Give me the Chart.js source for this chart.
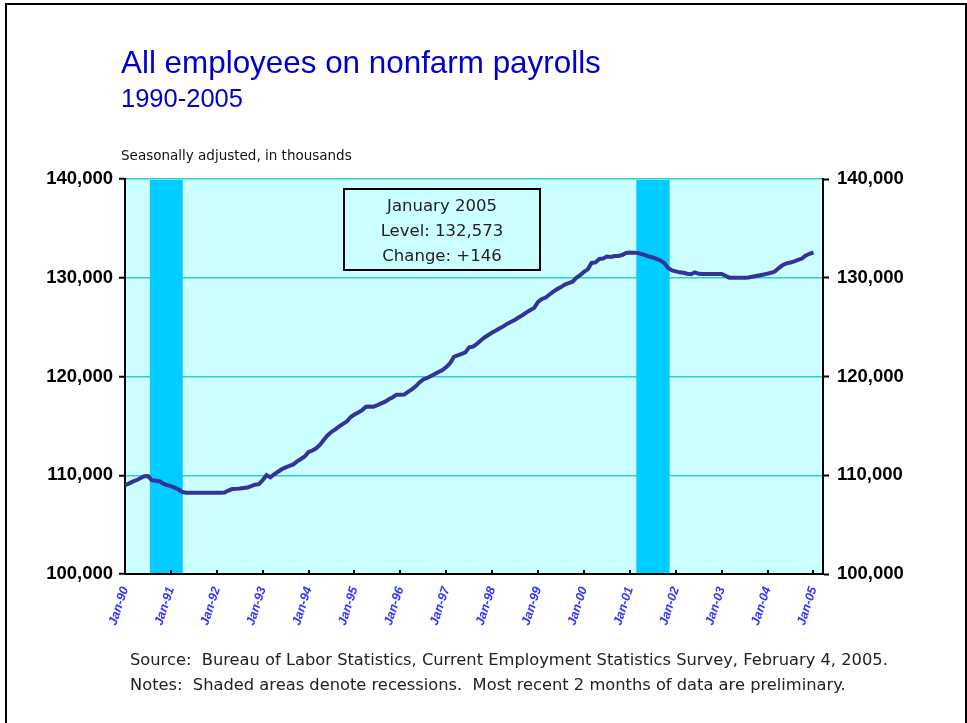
<!DOCTYPE html>
<html>
<head>
<meta charset="utf-8">
<script src="https://cdn.jsdelivr.net/npm/chart.js@4/dist/chart.umd.min.js"></script>
<style>
  html, body { margin: 0; padding: 0; background: #fff; overflow: hidden; }
  #wrap { position: relative; width: 967px; height: 723px; }
  canvas { position: absolute; left: 0; top: 0; }
  .t { position: absolute; white-space: nowrap; font-family: "Liberation Sans", Arial, sans-serif; }
  .d { font-family: "DejaVu Sans", Tahoma, sans-serif; }
  #frame { position: absolute; left: 5px; top: 3px; width: 962px; height: 740px; border: 2px solid #000; box-sizing: border-box; }
  #box { position: absolute; left: 343px; top: 188px; width: 198px; height: 83px; border: 2px solid #000; box-sizing: border-box;
         font-family: "DejaVu Sans", Tahoma, sans-serif; font-size: 16.5px; color: #222; text-align: center; line-height: 25px; padding-top: 3px; }
</style>
</head>
<body>
<div id="wrap">
  <canvas id="c" width="967" height="723"></canvas>
  <div id="frame"></div>
  <div class="t" style="left:121px; top:45px; font-size:31.4px; color:#0000cc;">All employees on nonfarm payrolls</div>
  <div class="t" style="left:121px; top:84px; font-size:25.5px; color:#0000cc;">1990-2005</div>
  <div class="t d" style="left:121px; top:147px; font-size:13.5px; color:#111;">Seasonally adjusted, in thousands</div>
  <div id="box">January 2005<br>Level: 132,573<br>Change: +146</div>
  <div class="t d" style="left:130px; top:650px; font-size:16.3px; color:#222;">Source:&nbsp; Bureau of Labor Statistics, Current Employment Statistics Survey, February 4, 2005.</div>
  <div class="t d" style="left:130px; top:675px; font-size:16.3px; color:#222;">Notes:&nbsp; Shaded areas denote recessions.&nbsp; Most recent 2 months of data are preliminary.</div>
</div>
<script>
// Monthly nonfarm payrolls, Jan 1990 - Jan 2005 (thousands, seasonally adjusted)
const payrolls1990 = [109010,109150,109350,109500,109700,109900,109920,109500,109450,109400,109150,109000];
const payrolls1991 = [108900,108750,108550,108300,108230,108240,108220,108230,108240,108230,108220,108230];
const payrolls1992 = [108220,108230,108250,108450,108600,108620,108650,108700,108750,108900,109040,109100];
const payrolls1993 = [109500,110020,109790,110100,110350,110600,110800,110940,111100,111400,111650,111900];
const payrolls1994 = [112350,112500,112730,113100,113600,114050,114400,114650,114950,115200,115450,115900];
const payrolls1995 = [116150,116350,116600,116940,116950,116940,117100,117280,117450,117690,117900,118160];
const payrolls1996 = [118160,118170,118450,118700,119000,119400,119700,119850,120050,120250,120450,120650];
const payrolls1997 = [120950,121350,122000,122150,122300,122450,122950,123020,123300,123650,123950,124200];
const payrolls1998 = [124450,124650,124880,125100,125350,125550,125750,126000,126230,126500,126730,126950];
const payrolls1999 = [127550,127850,128000,128300,128600,128850,129050,129300,129450,129600,130000,130250];
const payrolls2000 = [130600,130850,131500,131550,131900,131950,132150,132100,132200,132200,132300,132500];
const payrolls2001 = [132550,132540,132520,132400,132300,132150,132050,131900,131750,131500,131000,130750];
const payrolls2002 = [130650,130550,130500,130400,130350,130550,130400,130380,130370,130380,130390,130370];
const payrolls2003 = [130380,130200,130010,130000,130010,130000,130010,130020,130100,130180,130250,130330];
const payrolls2004 = [130420,130500,130650,131000,131300,131450,131550,131650,131800,131950,132250,132427];
const payrolls2005 = [132573];

// Month index 0 = Jan-90
const tickMonths = [0,12,24,36,48,60,72,84,96,108,120,132,144,156,168,180];
const tickLabels = ["Jan-90","Jan-91","Jan-92","Jan-93","Jan-94","Jan-95","Jan-96","Jan-97","Jan-98","Jan-99","Jan-00","Jan-01","Jan-02","Jan-03","Jan-04","Jan-05"];
const xAxisMax = 182.5;
const yTicksMin = 100000, yTicksMax = 140000, yStep = 10000;
// Recessions (month index start/end)
const recessionStart = [6.5, 133.7];
const recessionEnd   = [15.1, 142.4];

const values = [].concat(payrolls1990,payrolls1991,payrolls1992,payrolls1993,payrolls1994,payrolls1995,payrolls1996,
  payrolls1997,payrolls1998,payrolls1999,payrolls2000,payrolls2001,payrolls2002,payrolls2003,payrolls2004,payrolls2005);
const points = values.map((v,i)=>({x:i, y:v}));

const bgPlugin = {
  id: 'bg',
  beforeDraw(chart) {
    const {ctx, chartArea:a} = chart;
    ctx.save(); ctx.fillStyle = '#ccffff';
    ctx.fillRect(a.left, a.top, a.right-a.left, a.bottom-a.top);
    ctx.restore();
  },
  beforeDatasetsDraw(chart) {
    const {ctx, chartArea:a, scales} = chart;
    ctx.save(); ctx.fillStyle = '#00ccff';
    for (let i=0;i<recessionStart.length;i++) {
      const x0 = scales.x.getPixelForValue(recessionStart[i]);
      const x1 = scales.x.getPixelForValue(recessionEnd[i]);
      ctx.fillRect(x0, a.top+1, x1-x0, a.bottom-a.top-2);
    }
    ctx.restore();
  },
  afterDatasetsDraw(chart) {
    const {ctx, chartArea:a, scales} = chart;
    ctx.save(); ctx.strokeStyle = '#000'; ctx.lineWidth = 2;
    tickMonths.forEach(m => {
      const x = Math.round(scales.x.getPixelForValue(m));
      ctx.beginPath(); ctx.moveTo(x, a.bottom-4); ctx.lineTo(x, a.bottom); ctx.stroke();
    });
    ctx.restore();
  }
};

const yTickFmt = v => v.toLocaleString('en-US');

new Chart(document.getElementById('c'), {
  type: 'line',
  data: { datasets: [{ data: points, borderColor: '#333399', borderWidth: 4, pointRadius: 0, tension: 0, fill: false, yAxisID: 'y' }] },
  options: {
    responsive: false, animation: false, devicePixelRatio: 1,
    layout: { padding: { top: 179, left: 0, right: 0, bottom: 0 } },
    plugins: { legend: { display: false }, tooltip: { enabled: false } },
    scales: {
      x: {
        type: 'linear', min: 0, max: xAxisMax,
        afterBuildTicks: s => { s.ticks = tickMonths.map(v => ({value: v})); },
        afterFit: s => { s.height = 149; },
        grid: { drawOnChartArea: false, drawTicks: false },
        border: { color: '#000', width: 2 },
        ticks: {
          autoSkip: false, minRotation: 72, maxRotation: 72, padding: 11,
          color: '#3333ff', font: { family: '"Liberation Sans", Arial, sans-serif', size: 12.5, weight: 'bold', style: 'italic' },
          callback: v => { const i = tickMonths.indexOf(v); return i >= 0 ? tickLabels[i] : ''; }
        }
      },
      y: {
        position: 'left', min: yTicksMin, max: yTicksMax,
        afterFit: s => { s.width = 125; },
        grid: { color: '#33cccc', lineWidth: 1.5, tickColor: '#000', tickWidth: 2, tickLength: 6 },
        border: { color: '#000', width: 2 },
        ticks: { stepSize: yStep, padding: 6, color: '#000', callback: yTickFmt,
                 font: { family: '"Liberation Sans", Arial, sans-serif', size: 18.5, weight: 'bold' } }
      },
      y2: {
        position: 'right', min: yTicksMin, max: yTicksMax,
        afterFit: s => { s.width = 144; },
        grid: { drawOnChartArea: false, tickColor: '#000', tickWidth: 2, tickLength: 6 },
        border: { color: '#000', width: 2 },
        ticks: { stepSize: yStep, padding: 8, color: '#000', callback: yTickFmt,
                 font: { family: '"Liberation Sans", Arial, sans-serif', size: 18.5, weight: 'bold' } }
      }
    }
  },
  plugins: [bgPlugin]
});
</script>
</body>
</html>
